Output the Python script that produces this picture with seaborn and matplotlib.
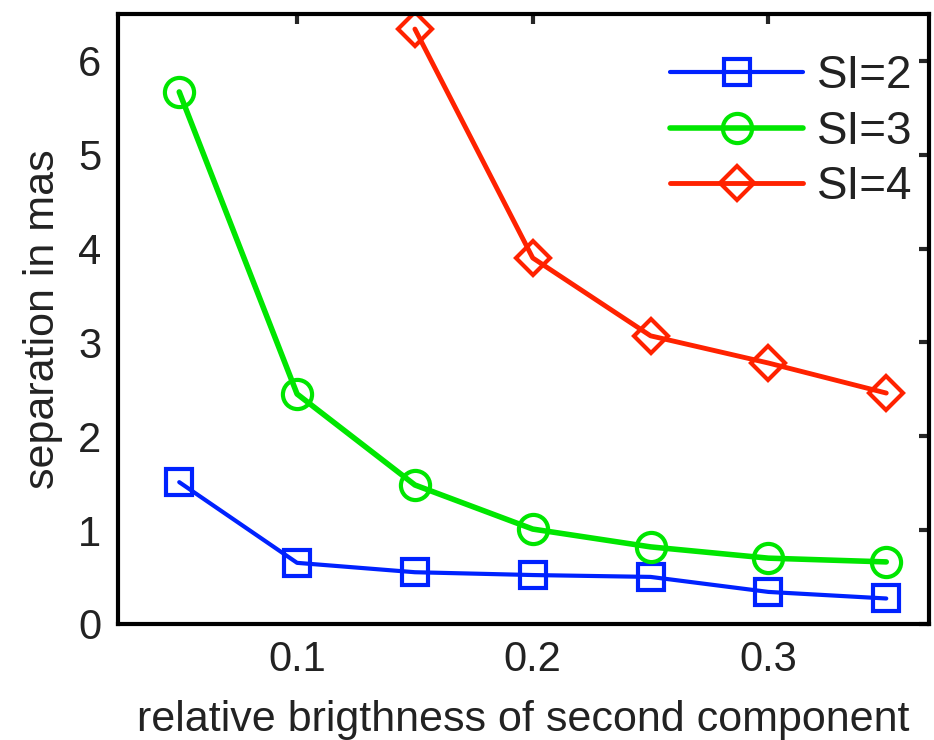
import pandas as pd
import matplotlib
matplotlib.use("Agg")
import matplotlib.pyplot as plt
import seaborn as sns

# values
x_si2 = [0.05, 0.10, 0.15, 0.20, 0.25, 0.30, 0.35]
y_si2 = [1.51, 0.65, 0.55, 0.52, 0.50, 0.34, 0.27]
x_si3 = [0.05, 0.10, 0.15, 0.20, 0.25, 0.30, 0.35]
y_si3 = [5.67, 2.45, 1.48, 1.01, 0.82, 0.70, 0.66]
x_si4 = [0.15, 0.20, 0.25, 0.30, 0.35]
y_si4 = [6.34, 3.90, 3.07, 2.78, 2.46]
labels = ["SI=2", "SI=3", "SI=4"]

sns.set_style("white")
plt.rcParams['font.family'] = ['Liberation Sans', 'DejaVu Sans']
plt.rcParams['text.color'] = '#222222'
plt.rcParams['axes.labelcolor'] = '#222222'

fig = plt.figure(figsize=(9.34, 7.4), dpi=100)
ax = fig.add_axes([0.1263, 0.157, 0.868, 0.824])

series = [
    (x_si2, y_si2, labels[0], "#0022ff", "s", 3.0, 19),
    (x_si3, y_si3, labels[1], "#00e600", "o", 4.0, 21),
    (x_si4, y_si4, labels[2], "#ff2200", "D", 3.5, 17),
]
for xs, ys, lab, col, mk, lw, ms in series:
    df = pd.DataFrame({"x": xs, "y": ys})
    sns.lineplot(data=df, x="x", y="y", ax=ax, color=col, marker=mk,
                 markersize=ms, markerfacecolor="none", markeredgecolor=col,
                 markeredgewidth=3, linewidth=lw, label=lab)

ax.set_xlim(0.024, 0.368)
ax.set_ylim(0, 6.5)
ax.set_xticks([0.1, 0.2, 0.3])
ax.set_xticklabels(["0.1", "0.2", "0.3"])
ax.set_yticks([0, 1, 2, 3, 4, 5, 6])
ax.tick_params(direction="in", length=7, width=3, top=True, right=True,
               labelsize=30, pad=12, labelcolor="#222222")
for s in ax.spines.values():
    s.set_visible(True)
    s.set_color("black")
    s.set_linewidth(3)

ax.set_xlabel("relative brigthness of second component", fontsize=31, labelpad=14)
ax.set_ylabel("separation in mas", fontsize=31, labelpad=11)

leg = ax.legend(loc="upper right", bbox_to_anchor=(1.0, 0.96), fontsize=33,
                frameon=False, handlelength=2.9, handletextpad=0.3,
                borderpad=0.1, borderaxespad=0.25, labelspacing=0.25)

fig.savefig("out.png", dpi=100)
